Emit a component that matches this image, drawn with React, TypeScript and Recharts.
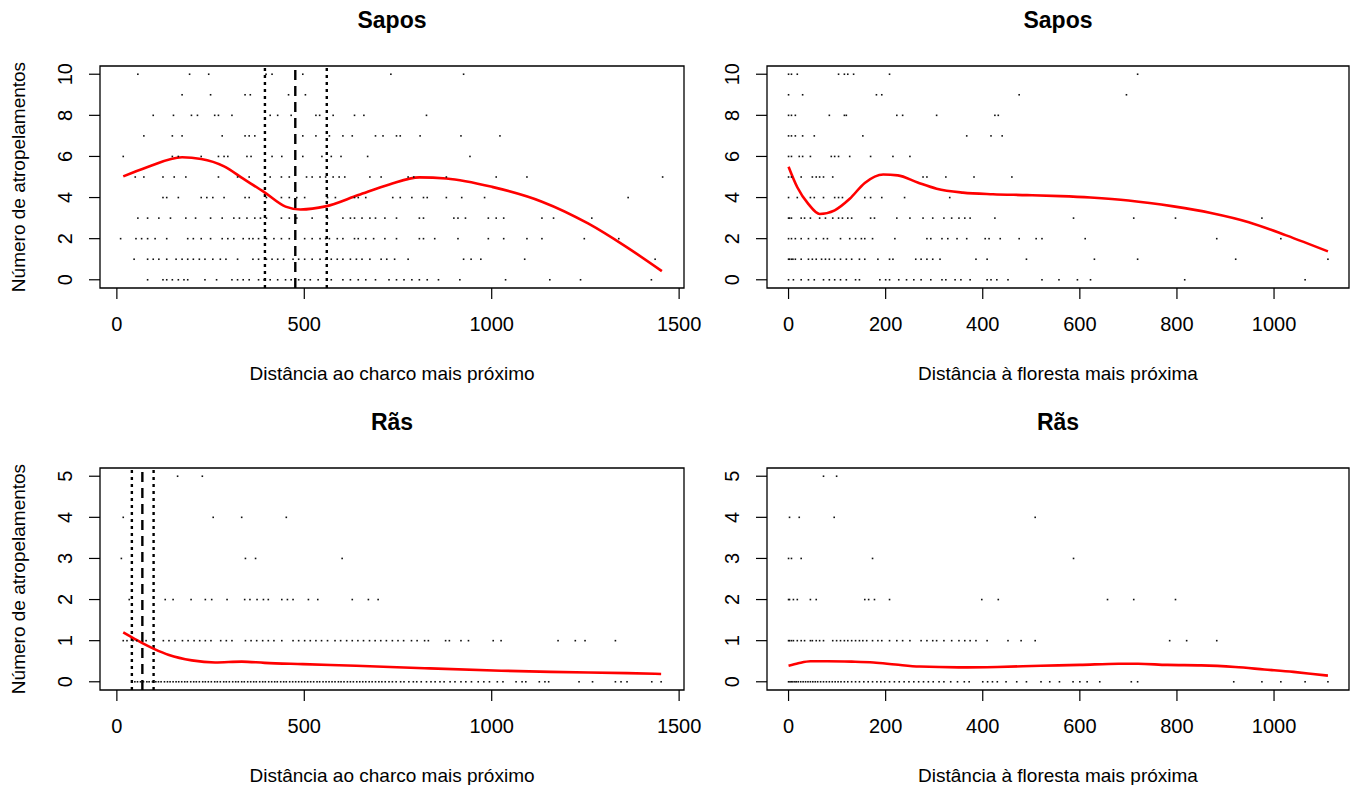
import { ComposedChart, Scatter, Line, XAxis, YAxis, ReferenceLine, ReferenceArea } from 'recharts';

// counts per road section: index of each row = number of road kills, values = distance
const saposCharcoRows: number[][] = [
  [82, 123, 133, 148, 164, 179, 189, 235, 266, 307, 322, 337, 353, 378, 393, 409, 429, 450, 465, 485, 501, 516, 537, 572, 603, 623, 644, 664, 690, 726, 746, 766, 787, 807, 828, 858, 915, 1037, 1155, 1237, 1426],
  [46, 82, 97, 112, 133, 158, 174, 189, 204, 220, 235, 256, 276, 291, 322, 363, 378, 399, 414, 429, 445, 470, 485, 501, 521, 542, 557, 572, 588, 603, 623, 639, 654, 675, 705, 720, 741, 777, 925, 945, 971, 1088, 1436],
  [10, 51, 66, 82, 102, 133, 189, 204, 225, 250, 281, 296, 312, 337, 353, 363, 378, 399, 419, 439, 460, 475, 501, 521, 542, 557, 567, 588, 603, 634, 644, 664, 685, 715, 746, 807, 818, 848, 910, 991, 1032, 1094, 1134, 1247, 1339],
  [56, 82, 112, 143, 184, 210, 250, 281, 312, 327, 347, 368, 383, 399, 439, 460, 480, 521, 562, 603, 623, 634, 654, 675, 690, 715, 746, 807, 818, 899, 910, 930, 991, 1012, 1032, 1134, 1165, 1267],
  [123, 133, 164, 225, 240, 256, 286, 342, 353, 399, 439, 460, 480, 501, 562, 583, 634, 644, 664, 736, 756, 787, 818, 828, 879, 920, 981, 1364],
  [49, 72, 123, 153, 184, 271, 322, 353, 409, 439, 460, 506, 521, 542, 557, 577, 593, 608, 675, 705, 777, 792, 879, 1012, 1094, 1456],
  [17, 148, 164, 225, 271, 286, 296, 347, 358, 414, 440, 496, 547, 572, 598, 669, 942],
  [72, 148, 174, 281, 342, 353, 368, 475, 496, 531, 567, 603, 628, 690, 710, 746, 756, 809, 918, 1022],
  [97, 151, 199, 215, 261, 271, 307, 409, 429, 465, 531, 541, 577, 634, 659, 826],
  [174, 250, 342, 356, 458, 503],
  [56, 194, 245, 398, 414, 496, 731, 925],
];
const saposCharcoCurveX = [17, 82, 174, 225, 286, 337, 394, 450, 490, 557, 644, 727, 807, 879, 1001, 1134, 1257, 1359, 1454];
const saposCharcoCurveY = [5.03, 5.49, 5.96, 5.88, 5.52, 4.92, 4.25, 3.56, 3.42, 3.57, 4.12, 4.64, 4.98, 4.93, 4.52, 3.8, 2.74, 1.6, 0.42];
const saposCharcoLines = [395, 476, 560];

const saposFlorestaRows: number[][] = [
  [0, 10, 26, 41, 53, 72, 84, 95, 107, 119, 138, 146, 188, 200, 208, 227, 243, 258, 273, 293, 316, 324, 343, 355, 374, 409, 417, 429, 452, 522, 557, 595, 622, 816, 1064],
  [0, 2, 6, 9, 14, 26, 41, 49, 57, 68, 76, 84, 95, 107, 119, 130, 146, 157, 184, 208, 215, 262, 273, 285, 297, 312, 386, 409, 490, 630, 719, 921, 1111],
  [0, 6, 14, 26, 41, 57, 72, 80, 107, 126, 138, 150, 157, 173, 219, 285, 293, 316, 328, 347, 367, 405, 413, 436, 475, 510, 522, 611, 882, 1014],
  [0, 2, 6, 26, 33, 45, 64, 76, 91, 103, 111, 122, 130, 169, 177, 223, 250, 277, 297, 320, 336, 351, 363, 374, 425, 587, 711, 797, 975],
  [0, 18, 45, 53, 72, 95, 103, 111, 157, 169, 192, 239, 332],
  [0, 6, 26, 49, 57, 64, 72, 91, 277, 285, 324, 382, 460],
  [0, 6, 22, 29, 45, 88, 95, 103, 126, 169, 215, 250],
  [0, 6, 14, 29, 53, 153, 367, 417, 440],
  [0, 6, 14, 84, 115, 119, 223, 235, 305, 425, 432],
  [0, 29, 181, 192, 475, 696],
  [0, 6, 18, 103, 115, 122, 134, 208, 719],
];
const saposFlorestaCurveX = [0, 18, 41, 64, 95, 126, 157, 195, 225, 266, 305, 359, 421, 491, 560, 622, 700, 793, 870, 948, 1025, 1111];
const saposFlorestaCurveY = [5.5, 4.5, 3.68, 3.2, 3.38, 3.94, 4.71, 5.12, 5.08, 4.73, 4.43, 4.24, 4.16, 4.12, 4.07, 4.0, 3.86, 3.57, 3.25, 2.8, 2.16, 1.38];

const rasCharcoRows: number[][] = [
  [48, 55, 63, 71, 80, 86, 95, 104, 111, 118, 127, 135, 142, 150, 158, 165, 173, 181, 188, 197, 205, 212, 220, 229, 236, 244, 252, 261, 268, 276, 285, 292, 300, 309, 317, 324, 333, 340, 349, 357, 365, 372, 381, 389, 396, 405, 413, 421, 428, 437, 445, 452, 461, 469, 477, 485, 493, 501, 509, 517, 525, 534, 541, 550, 558, 566, 574, 582, 591, 598, 606, 615, 623, 631, 640, 648, 656, 664, 673, 681, 690, 699, 707, 716, 726, 735, 745, 757, 766, 779, 791, 800, 812, 826, 838, 849, 862, 873, 889, 902, 918, 931, 946, 964, 979, 994, 1015, 1030, 1065, 1081, 1091, 1127, 1142, 1152, 1233, 1269, 1330, 1345, 1361, 1427, 1452],
  [17, 27, 43, 53, 78, 99, 124, 139, 155, 175, 190, 206, 221, 236, 251, 277, 292, 307, 343, 358, 373, 389, 404, 419, 440, 470, 485, 501, 516, 531, 546, 562, 582, 597, 613, 628, 643, 658, 674, 689, 704, 719, 735, 750, 765, 786, 801, 821, 831, 877, 887, 918, 938, 1004, 1025, 1177, 1223, 1249, 1330],
  [33, 129, 150, 198, 236, 253, 294, 341, 355, 374, 391, 404, 440, 455, 470, 511, 536, 628, 671, 697],
  [12, 343, 370, 601],
  [17, 257, 333, 452],
  [162, 228],
];
const rasCharcoCurveX = [17, 38, 68, 99, 139, 200, 262, 333, 394, 496, 638, 821, 1025, 1157, 1361, 1452];
const rasCharcoCurveY = [1.2, 1.09, 0.94, 0.8, 0.65, 0.52, 0.47, 0.49, 0.46, 0.43, 0.39, 0.33, 0.27, 0.24, 0.21, 0.19];
const rasCharcoLines = [40, 68, 98];

const rasFlorestaRows: number[][] = [
  [0, 3, 6, 9, 13, 16, 20, 25, 30, 35, 40, 45, 50, 55, 60, 66, 72, 78, 84, 90, 96, 102, 108, 115, 122, 130, 138, 146, 155, 164, 173, 182, 190, 198, 208, 218, 228, 238, 248, 258, 268, 278, 288, 298, 310, 320, 334, 348, 362, 372, 400, 410, 420, 430, 448, 470, 490, 520, 538, 558, 586, 600, 615, 641, 706, 719, 917, 975, 1014, 1064, 1111],
  [0, 2, 6, 10, 18, 26, 33, 45, 49, 57, 64, 72, 91, 99, 107, 115, 122, 130, 138, 146, 153, 161, 173, 184, 192, 208, 223, 235, 250, 273, 285, 297, 305, 320, 336, 351, 363, 374, 386, 409, 452, 479, 508, 785, 820, 882],
  [0, 2, 10, 18, 45, 57, 157, 165, 177, 208, 398, 432, 657, 711, 797],
  [0, 6, 26, 173, 587],
  [2, 22, 94, 508],
  [72, 99],
];
const rasFlorestaCurveX = [0, 20, 45, 80, 130, 175, 220, 270, 350, 430, 520, 600, 680, 720, 780, 850, 920, 980, 1040, 1080, 1111];
const rasFlorestaCurveY = [0.39, 0.45, 0.5, 0.5, 0.49, 0.47, 0.42, 0.37, 0.35, 0.36, 0.39, 0.41, 0.44, 0.44, 0.41, 0.4, 0.36, 0.3, 0.24, 0.19, 0.15];

const charcoTicks = [0, 500, 1000, 1500];
const florestaTicks = [0, 200, 400, 600, 800, 1000];
const saposYTicks = [0, 2, 4, 6, 8, 10];
const rasYTicks = [0, 1, 2, 3, 4, 5];

const FONT = '"Liberation Sans", Arial, Helvetica, sans-serif';
const M_TOP = 66;
const Y_W = 100;
const BOX_H = 222;
const X_H = 95;
const M_RIGHT = 40;

const toPoints = (rows: number[][]) => rows.flatMap((xs, n) => xs.map((x) => ({ x, y: n })));
const toCurve = (xs: number[], ys: number[]) => xs.map((x, i) => ({ x, y: ys[i] }));

const Dot = (props: any) => (
  <rect x={props.cx - 0.8} y={props.cy - 0.8} width={1.6} height={1.6} fill="#111" />
);

interface PanelProps {
  left: number;
  top: number;
  boxW: number;
  title: string;
  xLabel: string;
  yLabel?: string;
  rows: number[][];
  curveX: number[];
  curveY: number[];
  xDomain: [number, number];
  xTicks: number[];
  yDomain: [number, number];
  yTicks: number[];
  lines?: number[];
}

function Panel(p: PanelProps) {
  const width = Y_W + p.boxW + M_RIGHT;
  const height = M_TOP + BOX_H + X_H;
  const boxBottom = M_TOP + BOX_H;
  const mid = Y_W + p.boxW / 2;
  const points = toPoints(p.rows);
  const curve = toCurve(p.curveX, p.curveY);
  const labelX = Y_W - 28;

  return (
    <div style={{ position: 'absolute', left: p.left, top: p.top, width, height }}>
      <ComposedChart width={width} height={height} margin={{ top: M_TOP, right: M_RIGHT, bottom: 0, left: 0 }}>
        <XAxis
          type="number"
          dataKey="x"
          domain={p.xDomain}
          ticks={p.xTicks}
          interval={0}
          allowDataOverflow
          axisLine={false}
          tickSize={11}
          tickLine={{ stroke: '#000', strokeWidth: 1.2 }}
          height={X_H}
          tick={(t: any) => (
            <text x={t.x} y={boxBottom + 43} textAnchor="middle" fontSize={20} fontFamily={FONT} fill="#000">
              {t.payload.value}
            </text>
          )}
        />
        <YAxis
          type="number"
          dataKey="y"
          domain={p.yDomain}
          ticks={p.yTicks}
          interval={0}
          allowDataOverflow
          axisLine={false}
          tickSize={11}
          tickLine={{ stroke: '#000', strokeWidth: 1.2 }}
          width={Y_W}
          tick={(t: any) => (
            <text
              x={labelX}
              y={t.y}
              transform={`rotate(-90 ${labelX} ${t.y})`}
              textAnchor="middle"
              fontSize={20}
              fontFamily={FONT}
              fill="#000"
            >
              {t.payload.value}
            </text>
          )}
        />
        <ReferenceArea
          x1={p.xDomain[0]}
          x2={p.xDomain[1]}
          y1={p.yDomain[0]}
          y2={p.yDomain[1]}
          fill="none"
          stroke="#000"
          strokeWidth={1.3}
          ifOverflow="visible"
        />
        <Scatter data={points} shape={Dot} isAnimationActive={false} />
        {(p.lines ?? []).map((v, i) => (
          <ReferenceLine
            key={i}
            x={v}
            stroke="#000"
            strokeWidth={2.4}
            strokeDasharray={i === 1 ? '10 6' : '3 4'}
          />
        ))}
        <Line
          data={curve}
          dataKey="y"
          type="monotone"
          stroke="#ff0000"
          strokeWidth={2.6}
          dot={false}
          activeDot={false}
          isAnimationActive={false}
        />
      </ComposedChart>
      <svg width={width} height={height} style={{ position: 'absolute', left: 0, top: 0, pointerEvents: 'none' }}>
        <text x={mid} y={28} textAnchor="middle" fontSize={23} fontWeight="bold" fontFamily={FONT} fill="#000">
          {p.title}
        </text>
        <text x={mid} y={boxBottom + 92} textAnchor="middle" fontSize={19} fontFamily={FONT} fill="#000">
          {p.xLabel}
        </text>
        {p.yLabel && (
          <text
            x={25}
            y={M_TOP + BOX_H / 2}
            transform={`rotate(-90 25 ${M_TOP + BOX_H / 2})`}
            textAnchor="middle"
            fontSize={19}
            fontFamily={FONT}
            fill="#000"
          >
            {p.yLabel}
          </text>
        )}
      </svg>
    </div>
  );
}

export default function App() {
  const yLabel = 'Número de atropelamentos';
  return (
    <div style={{ position: 'absolute', left: 0, top: 0, width: 1354, height: 789, overflow: 'hidden', background: '#fff' }}>
      <Panel
        left={0}
        top={0}
        boxW={584}
        title="Sapos"
        xLabel="Distância ao charco mais próximo"
        yLabel={yLabel}
        rows={saposCharcoRows}
        curveX={saposCharcoCurveX}
        curveY={saposCharcoCurveY}
        xDomain={[-45, 1513]}
        xTicks={charcoTicks}
        yDomain={[-0.4, 10.4]}
        yTicks={saposYTicks}
        lines={saposCharcoLines}
      />
      <Panel
        left={667}
        top={0}
        boxW={582}
        title="Sapos"
        xLabel="Distância à floresta mais próxima"
        rows={saposFlorestaRows}
        curveX={saposFlorestaCurveX}
        curveY={saposFlorestaCurveY}
        xDomain={[-44.4, 1154.4]}
        xTicks={florestaTicks}
        yDomain={[-0.4, 10.4]}
        yTicks={saposYTicks}
      />
      <Panel
        left={0}
        top={402}
        boxW={584}
        title="Rãs"
        xLabel="Distância ao charco mais próximo"
        yLabel={yLabel}
        rows={rasCharcoRows}
        curveX={rasCharcoCurveX}
        curveY={rasCharcoCurveY}
        xDomain={[-45, 1513]}
        xTicks={charcoTicks}
        yDomain={[-0.2, 5.2]}
        yTicks={rasYTicks}
        lines={rasCharcoLines}
      />
      <Panel
        left={667}
        top={402}
        boxW={582}
        title="Rãs"
        xLabel="Distância à floresta mais próxima"
        rows={rasFlorestaRows}
        curveX={rasFlorestaCurveX}
        curveY={rasFlorestaCurveY}
        xDomain={[-44.4, 1154.4]}
        xTicks={florestaTicks}
        yDomain={[-0.2, 5.2]}
        yTicks={rasYTicks}
      />
    </div>
  );
}
